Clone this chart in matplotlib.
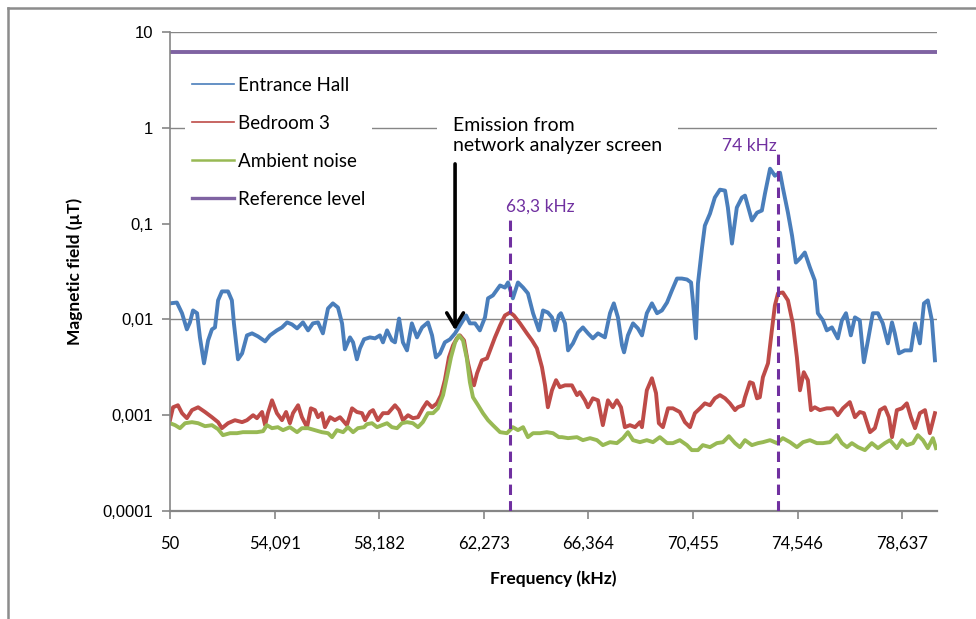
import matplotlib
matplotlib.use("Agg")
import matplotlib.pyplot as plt
from matplotlib.lines import Line2D

# ---------------- data (kHz, µT) ----------------
hall_freq = [
    50.00, 50.27, 50.47, 50.66, 50.78, 50.90, 51.06, 51.17, 51.33, 51.49,
    51.64, 51.76, 51.88, 52.03, 52.27, 52.42, 52.50, 52.66, 52.82, 53.01,
    53.21, 53.44, 53.72, 53.91, 54.18, 54.38, 54.58, 54.77, 54.97, 55.20,
    55.40, 55.59, 55.79, 55.98, 56.18, 56.37, 56.57, 56.73, 56.84, 57.04,
    57.16, 57.31, 57.43, 57.59, 57.82, 58.02, 58.21, 58.33, 58.49, 58.68,
    58.80, 58.96, 59.11, 59.27, 59.46, 59.66, 59.86, 60.09, 60.25, 60.40,
    60.56, 60.75, 60.95, 61.15, 61.34, 61.58, 61.73, 61.93, 62.12, 62.32,
    62.44, 62.63, 62.91, 63.10, 63.22, 63.41, 63.61, 63.81, 64.00, 64.20,
    64.43, 64.59, 64.78, 64.94, 65.06, 65.21, 65.29, 65.45, 65.57, 65.76,
    65.96, 66.15, 66.35, 66.54, 66.74, 67.01, 67.21, 67.36, 67.52, 67.68,
    67.76, 67.91, 68.11, 68.30, 68.46, 68.65, 68.85, 69.05, 69.24, 69.44,
    69.63, 69.83, 70.02, 70.22, 70.38, 70.45, 70.57, 70.65, 70.81, 70.92,
    71.12, 71.31, 71.51, 71.71, 71.82, 71.98, 72.17, 72.37, 72.49, 72.76,
    72.96, 73.15, 73.27, 73.47, 73.66, 73.86, 73.97, 74.17, 74.33, 74.48,
    74.64, 74.83, 75.03, 75.22, 75.34, 75.54, 75.69, 75.89, 76.12, 76.28,
    76.44, 76.63, 76.79, 76.98, 77.14, 77.30, 77.49, 77.69, 77.88, 78.08,
    78.24, 78.35, 78.51, 78.74, 78.98, 79.14, 79.33, 79.49, 79.64, 79.80,
    79.92,
]
hall_field = [
    0.0147, 0.0150, 0.0116, 0.00787, 0.00931, 0.0124, 0.0116, 0.00649, 0.00348, 0.00604,
    0.00787, 0.00825, 0.0158, 0.0196, 0.0196, 0.0158, 0.00909, 0.00383, 0.00442, 0.00681,
    0.00715, 0.00665, 0.00590, 0.00681, 0.00768, 0.00825, 0.00931, 0.00887, 0.00806, 0.00931,
    0.00768, 0.00909, 0.00931, 0.00715, 0.0130, 0.0147, 0.0133, 0.00909, 0.00487, 0.00649,
    0.00576, 0.00383, 0.00499, 0.0062, 0.00649, 0.00634, 0.00681, 0.00576, 0.00768, 0.00604,
    0.00576, 0.0102, 0.00576, 0.00475, 0.00909, 0.00649, 0.00825, 0.00931, 0.00681, 0.00402,
    0.00442, 0.00576, 0.00619, 0.00715, 0.00866, 0.0110, 0.00909, 0.00909, 0.00768, 0.0105,
    0.0166, 0.0178, 0.0226, 0.0215, 0.0243, 0.0166, 0.0243, 0.0215, 0.0187, 0.0116,
    0.00768, 0.0124, 0.0118, 0.0105, 0.00768, 0.0110, 0.0116, 0.00909, 0.00475, 0.00562,
    0.00732, 0.00825, 0.00715, 0.00634, 0.00715, 0.00649, 0.0116, 0.0147, 0.0105, 0.00536,
    0.00453, 0.00681, 0.00909, 0.00806, 0.00681, 0.0116, 0.0147, 0.0116, 0.0124, 0.0150,
    0.0200, 0.0267, 0.0267, 0.0261, 0.0243, 0.0158, 0.00634, 0.0237, 0.0562, 0.0953,
    0.127, 0.187, 0.226, 0.221, 0.147, 0.0619, 0.147, 0.187, 0.196, 0.108,
    0.130, 0.137, 0.205, 0.374, 0.316, 0.340, 0.237, 0.130, 0.0750, 0.0392,
    0.0432, 0.0499, 0.0348, 0.0255, 0.0116, 0.00976, 0.00768, 0.00825, 0.00634, 0.00976,
    0.0116, 0.00681, 0.0105, 0.00976, 0.00357, 0.00604, 0.0116, 0.0116, 0.00909, 0.00562,
    0.00931, 0.00715, 0.00442, 0.00475, 0.00475, 0.00909, 0.00562, 0.0147, 0.0158, 0.00976,
    0.00374,
]

bed_freq = [
    50.00, 50.12, 50.31, 50.47, 50.66, 50.86, 51.10, 51.37, 51.64, 51.88,
    52.03, 52.27, 52.54, 52.82, 53.01, 53.25, 53.40, 53.60, 53.72, 53.83,
    53.99, 54.18, 54.38, 54.54, 54.69, 54.81, 55.01, 55.16, 55.36, 55.51,
    55.67, 55.79, 55.94, 56.06, 56.26, 56.45, 56.65, 56.92, 57.12, 57.31,
    57.51, 57.63, 57.82, 57.94, 58.13, 58.33, 58.53, 58.80, 58.96, 59.11,
    59.31, 59.50, 59.70, 59.89, 60.05, 60.25, 60.44, 60.60, 60.75, 60.91,
    61.07, 61.22, 61.34, 61.50, 61.65, 61.81, 61.89, 62.01, 62.20, 62.40,
    62.55, 62.71, 62.91, 63.10, 63.30, 63.45, 63.69, 63.96, 64.16, 64.35,
    64.55, 64.67, 64.78, 64.94, 65.10, 65.25, 65.45, 65.72, 65.92, 66.03,
    66.23, 66.35, 66.54, 66.74, 66.93, 67.13, 67.32, 67.48, 67.64, 67.79,
    67.99, 68.19, 68.38, 68.46, 68.65, 68.85, 69.01, 69.12, 69.28, 69.48,
    69.67, 69.94, 70.14, 70.34, 70.53, 70.73, 70.92, 71.12, 71.31, 71.51,
    71.71, 71.90, 72.10, 72.21, 72.41, 72.49, 72.68, 72.80, 72.96, 73.07,
    73.19, 73.39, 73.54, 73.66, 73.78, 73.97, 74.17, 74.36, 74.52, 74.64,
    74.79, 74.95, 75.07, 75.22, 75.42, 75.69, 75.93, 76.12, 76.32, 76.59,
    76.79, 76.98, 77.14, 77.38, 77.57, 77.77, 77.96, 78.12, 78.24, 78.43,
    78.63, 78.82, 78.98, 79.14, 79.33, 79.53, 79.72, 79.92,
]
bed_field = [
    0.000887, 0.00121, 0.00127, 0.00105, 0.000931, 0.00113, 0.00121, 0.00108, 0.000953, 0.000846,
    0.000732, 0.000825, 0.000887, 0.000846, 0.000887, 0.00100, 0.000931, 0.00108, 0.000787, 0.00105,
    0.00143, 0.00105, 0.000887, 0.00108, 0.000825, 0.00105, 0.00127, 0.000953, 0.000750, 0.00118,
    0.00113, 0.000953, 0.00105, 0.000750, 0.000953, 0.000887, 0.000953, 0.000787, 0.00118, 0.00108,
    0.00105, 0.000887, 0.00108, 0.00113, 0.000887, 0.00105, 0.00105, 0.00127, 0.00113, 0.000887,
    0.00100, 0.000931, 0.000953, 0.00118, 0.00137, 0.00121, 0.00133, 0.00162, 0.00232, 0.00402,
    0.00536, 0.00634, 0.00681, 0.00604, 0.00357, 0.00232, 0.00205, 0.00274, 0.00374, 0.00392,
    0.00499, 0.00649, 0.00866, 0.0110, 0.0118, 0.0110, 0.00909, 0.00715, 0.00604, 0.00499,
    0.00316, 0.00205, 0.00121, 0.00182, 0.00232, 0.00196, 0.00205, 0.00205, 0.00162, 0.00174,
    0.00143, 0.00121, 0.00150, 0.00143, 0.000787, 0.00143, 0.00121, 0.00143, 0.00121, 0.000750,
    0.000787, 0.000750, 0.000846, 0.000750, 0.00182, 0.00243, 0.00170, 0.000825, 0.000750, 0.00118,
    0.00118, 0.00108, 0.000846, 0.000750, 0.00105, 0.00118, 0.00133, 0.00127, 0.00150, 0.00162,
    0.00150, 0.00133, 0.00113, 0.00121, 0.00127, 0.00154, 0.00221, 0.00215, 0.00150, 0.00154,
    0.00249, 0.00348, 0.00768, 0.0140, 0.0187, 0.0191, 0.0158, 0.00909, 0.00402, 0.00182,
    0.00281, 0.00232, 0.00113, 0.00121, 0.00113, 0.00118, 0.00118, 0.00100, 0.00118, 0.00137,
    0.000953, 0.00108, 0.00105, 0.000665, 0.000732, 0.00113, 0.00121, 0.000953, 0.000590, 0.00113,
    0.00118, 0.00133, 0.000953, 0.000732, 0.00105, 0.00113, 0.000649, 0.00105,
]

amb_freq = [
    50.00, 50.20, 50.39, 50.59, 50.86, 51.10, 51.37, 51.64, 51.88, 52.07,
    52.35, 52.62, 52.85, 53.13, 53.40, 53.64, 53.79, 53.99, 54.22, 54.42,
    54.69, 54.97, 55.16, 55.40, 55.67, 55.94, 56.18, 56.34, 56.53, 56.77,
    56.96, 57.16, 57.35, 57.59, 57.70, 57.90, 58.10, 58.29, 58.49, 58.68,
    58.88, 59.07, 59.27, 59.50, 59.70, 59.89, 60.09, 60.29, 60.48, 60.68,
    60.83, 60.99, 61.15, 61.30, 61.46, 61.61, 61.73, 61.85, 62.05, 62.24,
    62.44, 62.63, 62.91, 63.18, 63.41, 63.61, 63.81, 64.00, 64.20, 64.47,
    64.74, 64.98, 65.21, 65.33, 65.57, 65.92, 66.15, 66.43, 66.70, 66.93,
    67.21, 67.48, 67.72, 67.91, 68.11, 68.38, 68.65, 68.89, 69.16, 69.44,
    69.67, 69.94, 70.22, 70.41, 70.65, 70.84, 71.12, 71.39, 71.63, 71.86,
    72.10, 72.29, 72.49, 72.76, 73.00, 73.19, 73.47, 73.74, 73.97, 74.25,
    74.52, 74.76, 75.03, 75.30, 75.54, 75.81, 76.08, 76.28, 76.48, 76.67,
    76.91, 77.18, 77.45, 77.69, 77.96, 78.16, 78.43, 78.63, 78.82, 79.06,
    79.25, 79.45, 79.64, 79.84, 79.96,
]
amb_field = [
    0.000825, 0.000787, 0.000732, 0.000825, 0.000846, 0.000825, 0.000768, 0.000787, 0.000715, 0.000619,
    0.000649, 0.000649, 0.000665, 0.000665, 0.000665, 0.000681, 0.000787, 0.000732, 0.000750, 0.000698,
    0.000750, 0.000665, 0.000732, 0.000732, 0.000698, 0.000665, 0.000649, 0.000590, 0.000698, 0.000665,
    0.000750, 0.000665, 0.000732, 0.000750, 0.000806, 0.000825, 0.000750, 0.000787, 0.000825, 0.000750,
    0.000732, 0.000825, 0.000846, 0.000825, 0.000750, 0.000846, 0.00105, 0.00105, 0.00118, 0.00162,
    0.00249, 0.00402, 0.00576, 0.00681, 0.00604, 0.00392, 0.00221, 0.00154, 0.00127, 0.00105,
    0.000887, 0.000787, 0.000665, 0.000649, 0.000750, 0.000698, 0.000750, 0.000590, 0.000649, 0.000649,
    0.000665, 0.000649, 0.000590, 0.000590, 0.000576, 0.000590, 0.000549, 0.000576, 0.000549, 0.000487,
    0.000523, 0.000511, 0.000576, 0.000665, 0.000549, 0.000523, 0.000549, 0.000523, 0.000590, 0.000511,
    0.000511, 0.000549, 0.000487, 0.000432, 0.000432, 0.000487, 0.000464, 0.000511, 0.000523, 0.000604,
    0.000511, 0.000464, 0.000549, 0.000487, 0.000511, 0.000523, 0.000549, 0.000511, 0.000576, 0.000523,
    0.000464, 0.000523, 0.000549, 0.000511, 0.000511, 0.000523, 0.000619, 0.000511, 0.000464, 0.000511,
    0.000464, 0.000432, 0.000511, 0.000453, 0.000511, 0.000549, 0.000453, 0.000549, 0.000487, 0.000511,
    0.000619, 0.000549, 0.000453, 0.000576, 0.000453,
]

reference_level = 6.25
x_range = [50, 80]
y_range = [0.0001, 10]

x_tick_values = [50, 54.091, 58.182, 62.273, 66.364, 70.455, 74.546, 78.637]
x_tick_labels = ["50", "54,091", "58,182", "62,273", "66,364", "70,455", "74,546", "78,637"]
y_tick_values = [0.0001, 0.001, 0.01, 0.1, 1, 10]
y_tick_labels = ["0,0001", "0,001", "0,01", "0,1", "1", "10"]
grid_levels = [10, 1, 0.01]

series_names = ["Entrance Hall", "Bedroom 3", "Ambient noise", "Reference level"]

marker_freqs = [63.3, 73.8]
marker_tops = [0.121, 0.55]
marker_labels = ["63,3 kHz", "74 kHz"]
marker_label_pos = [(64.47, 0.152), (72.68, 0.65)]

emission_freq = 61.15
emission_head = 0.0077
emission_tail = 0.42
emission_text = "Emission from\nnetwork analyzer screen"
emission_text_pos = (61.07, 0.83)

# ---------------- styling ----------------
C_BLUE = "#4A7EBB"
C_RED = "#BE4B48"
C_GREEN = "#98B954"
C_REF = "#7F63A2"
C_MARK = "#7030A0"
C_AXIS = "#868686"
FONT = "Lato"

W, H = 976, 619
fig = plt.figure(figsize=(W / 100, H / 100), dpi=100)
fig.patch.set_facecolor("white")

L, R, T, B = 170, 937, 32, 511
ax = fig.add_axes([L / W, 1 - B / H, (R - L) / W, (B - T) / H])

# outer frame of the chart object
fig.add_artist(Line2D([8 / W, 8 / W], [0, 1 - 8 / H], color="#8c8c8c", lw=1.8,
                      transform=fig.transFigure))
fig.add_artist(Line2D([8 / W, 1], [1 - 8 / H, 1 - 8 / H], color="#8c8c8c", lw=1.8,
                      transform=fig.transFigure))

ax.set_yscale("log")
ax.set_xlim(*x_range)
ax.set_ylim(*y_range)

for g in grid_levels:
    ax.axhline(g, color=C_AXIS, lw=1.0, zorder=0.5)

lw = 2.8
ax.plot(hall_freq, hall_field, color=C_BLUE, lw=lw, label=series_names[0], zorder=2,
        solid_joinstyle="round")
ax.plot(bed_freq, bed_field, color=C_RED, lw=lw, label=series_names[1], zorder=2.1,
        solid_joinstyle="round")
ax.plot(amb_freq, amb_field, color=C_GREEN, lw=lw, label=series_names[2], zorder=2.2,
        solid_joinstyle="round")
ax.axhline(reference_level, color=C_REF, lw=2.8, label=series_names[3], zorder=2.3)

# vertical dashed markers
for f, top, lab, pos in zip(marker_freqs, marker_tops, marker_labels, marker_label_pos):
    ax.vlines(f, y_range[0], top, colors=C_MARK, linestyles=(0, (3.4, 2.0)), lw=2.2, zorder=3)
    ax.text(pos[0], pos[1], lab, color=C_MARK, fontsize=12.5, family=FONT,
            ha="center", va="center", zorder=4)

# emission annotation
ax.text(emission_text_pos[0], emission_text_pos[1], emission_text, fontsize=14, family=FONT,
        ha="left", va="center", linespacing=1.25, zorder=4,
        bbox=dict(boxstyle="square,pad=0.8", facecolor="white", edgecolor="none"))
ax.annotate("", xy=(emission_freq, emission_head), xytext=(emission_freq, emission_tail),
            arrowprops=dict(arrowstyle="->,head_length=0.5,head_width=0.3", lw=2.6,
                            color="black", mutation_scale=20, shrinkA=0, shrinkB=0),
            zorder=5)

# axes styling
for s in ["top", "right"]:
    ax.spines[s].set_visible(False)
ax.spines["left"].set_color(C_AXIS)
ax.spines["bottom"].set_color(C_AXIS)
ax.spines["left"].set_linewidth(1.2)
ax.spines["bottom"].set_linewidth(1.6)

ax.set_xticks(x_tick_values)
ax.set_xticklabels(x_tick_labels, family=FONT, fontsize=12)
ax.set_yticks(y_tick_values)
ax.set_yticklabels(y_tick_labels, family="Liberation Sans", fontsize=12)
ax.minorticks_off()
ax.tick_params(axis="x", direction="out", length=6, width=1.2, color=C_AXIS, pad=12)
ax.tick_params(axis="y", direction="out", length=6, width=1.2, color=C_AXIS, pad=6)

ax.set_xlabel("Frequency (kHz)", family=FONT, fontsize=12.5, fontweight="bold", labelpad=13)
ax.set_ylabel("Magnetic field (µT)", family=FONT, fontsize=12.5, fontweight="bold", labelpad=14)

leg = ax.legend(loc="upper left", bbox_to_anchor=(0.02, 0.92), frameon=True,
                facecolor="white", edgecolor="none", framealpha=1.0, fancybox=False,
                prop={"family": FONT, "size": 13.5}, handlelength=2.25, handletextpad=0.2,
                labelspacing=1.12, borderpad=0.35, borderaxespad=0)
leg.set_zorder(6)
for h, w in zip(leg.get_lines(), [1.2, 1.2, 1.8, 2.4]):
    h.set_linewidth(w)

fig.savefig("out.png", dpi=100, facecolor="white")
